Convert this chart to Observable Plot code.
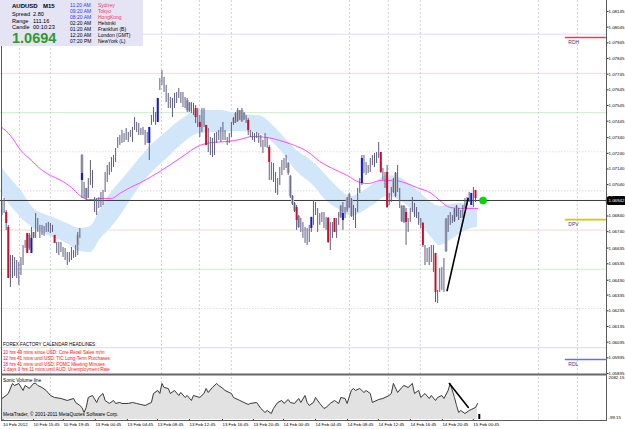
<!DOCTYPE html>
<html><head><meta charset="utf-8">
<script src="https://cdn.jsdelivr.net/npm/d3@7"></script>
<script src="https://cdn.jsdelivr.net/npm/@observablehq/plot@0.6"></script>
<style>
body{margin:0;background:#fff;}
#wrap{position:relative;width:625px;height:429px;overflow:hidden;background:#fff;}
#p1,#p2,#ov{position:absolute;left:0;}
#p1{top:0}#p2{top:375px}#ov{top:0;pointer-events:none}
svg{overflow:visible}
</style></head><body>
<div id="wrap"><div id="p1"></div><div id="p2"></div><div id="ov"></div></div>
<script>
// ---------- DATA ----------
const barHigh = [1.06939,1.06952,1.06875,1.06780,1.06588,1.06588,1.06575,1.06556,1.06543,1.06575,
1.06652,1.06684,1.06728,1.06728,1.06767,1.06735,1.06856,1.06824,1.06780,1.06780,
1.06773,1.06792,1.06799,1.06792,1.06780,1.06716,1.06671,1.06671,1.06671,1.06639,
1.06633,1.06607,1.06607,1.06639,1.06620,1.06652,1.06735,1.06760,1.07232,1.07054,
1.07016,1.07079,1.07194,1.07130,1.06958,1.06952,1.06958,1.06990,1.07003,1.07118,
1.07162,1.07181,1.07213,1.07226,1.07271,1.07341,1.07354,1.07386,1.07366,1.07398,
1.07373,1.07386,1.07405,1.07468,1.07437,1.07430,1.07398,1.07405,1.07386,1.07373,
1.07405,1.07481,1.07532,1.07500,1.07590,1.07717,1.07768,1.07724,1.07673,1.07622,
1.07596,1.07590,1.07622,1.07628,1.07654,1.07628,1.07628,1.07596,1.07590,1.07564,
1.07564,1.07558,1.07545,1.07526,1.07481,1.07526,1.07526,1.07418,1.07398,1.07341,
1.07335,1.07366,1.07373,1.07386,1.07405,1.07437,1.07386,1.07341,1.07366,1.07437,
1.07468,1.07500,1.07526,1.07513,1.07526,1.07500,1.07481,1.07462,1.07386,1.07373,
1.07366,1.07373,1.07366,1.07354,1.07322,1.07366,1.07341,1.07290,1.07181,1.07175,
1.07118,1.07079,1.07150,1.07194,1.07207,1.07226,1.07181,1.07099,1.06971,1.06926,
1.06907,1.06843,1.06824,1.06799,1.06767,1.06760,1.06780,1.06831,1.06939,1.06926,
1.06888,1.06856,1.06862,1.06862,1.06831,1.06831,1.06799,1.06799,1.06824,1.06824,
1.06862,1.06907,1.06926,1.06894,1.06958,1.06984,1.06952,1.06907,1.06888,1.07016,
1.07079,1.07226,1.07226,1.07181,1.07162,1.07207,1.07226,1.07239,1.07245,1.07309,
1.07245,1.07143,1.07118,1.07162,1.06984,1.07022,1.07079,1.07118,1.07162,1.07016,
1.06907,1.06907,1.06888,1.06824,1.06888,1.06958,1.06920,1.06894,1.06862,1.06824,
1.06799,1.06652,1.06633,1.06639,1.06652,1.06652,1.06601,1.06365,1.06505,1.06512,
1.06569,1.06824,1.06843,1.06862,1.06843,1.06888,1.06907,1.06888,1.06875,1.06907,
1.06952,1.06958,1.06990,1.06984,1.07022,1.07003];
const barLow = [1.06843,1.06856,1.06748,1.06441,1.06384,1.06441,1.06454,1.06441,1.06397,1.06460,
1.06524,1.06633,1.06601,1.06620,1.06601,1.06697,1.06697,1.06735,1.06697,1.06716,
1.06710,1.06735,1.06735,1.06728,1.06735,1.06665,1.06601,1.06588,1.06607,1.06575,
1.06556,1.06524,1.06543,1.06556,1.06569,1.06575,1.06588,1.06697,1.06952,1.06952,
1.06939,1.06952,1.07035,1.07016,1.06862,1.06843,1.06888,1.06894,1.06907,1.06990,
1.07054,1.07099,1.07118,1.07150,1.07181,1.07271,1.07290,1.07303,1.07309,1.07322,
1.07309,1.07341,1.07309,1.07386,1.07373,1.07354,1.07354,1.07354,1.07290,1.07303,
1.07194,1.07418,1.07437,1.07418,1.07437,1.07641,1.07673,1.07628,1.07564,1.07526,
1.07526,1.07468,1.07526,1.07558,1.07590,1.07558,1.07532,1.07526,1.07500,1.07500,
1.07494,1.07481,1.07430,1.07405,1.07341,1.07373,1.07405,1.07290,1.07245,1.07226,
1.07213,1.07226,1.07303,1.07322,1.07309,1.07322,1.07322,1.07290,1.07303,1.07341,
1.07418,1.07430,1.07437,1.07449,1.07437,1.07449,1.07430,1.07354,1.07341,1.07322,
1.07309,1.07335,1.07303,1.07277,1.07239,1.07277,1.07271,1.07067,1.07067,1.07054,
1.06984,1.06971,1.07035,1.07099,1.07130,1.07143,1.07099,1.06952,1.06907,1.06862,
1.06748,1.06760,1.06735,1.06697,1.06665,1.06652,1.06671,1.06735,1.06780,1.06843,
1.06735,1.06780,1.06799,1.06760,1.06748,1.06665,1.06620,1.06697,1.06735,1.06697,
1.06780,1.06824,1.06748,1.06824,1.06862,1.06888,1.06831,1.06811,1.06760,1.06862,
1.06984,1.07035,1.07111,1.07099,1.07111,1.07118,1.07162,1.07150,1.07175,1.07207,
1.07111,1.07067,1.07016,1.06888,1.06907,1.06926,1.06984,1.06958,1.06990,1.06888,
1.06799,1.06792,1.06652,1.06735,1.06799,1.06862,1.06831,1.06824,1.06780,1.06760,
1.06639,1.06524,1.06543,1.06524,1.06543,1.06480,1.06288,1.06282,1.06352,1.06365,
1.06352,1.06607,1.06735,1.06780,1.06792,1.06799,1.06831,1.06811,1.06824,1.06824,
1.06888,1.06907,1.06926,1.06907,1.06894,1.06926];

// coloured candle bodies (bar number, top, bottom, colour)
const bodyBar = [2,3,12,25,92,94,97,117,127,140,155,158,180,183,192,200,206,225,
 14,38,70,74,147,162,171,223,
 13,15,36,38,40,88,89,110,111,112,113,114,115,136,137,138,139,141,161,164,165,166,186,187,190,191,211,215,216];
const bodyTop = [1.06862,1.06767,1.06728,1.06716,1.07526,1.07437,1.07418,1.07449,1.07277,1.06894,1.06824,1.06824,1.07245,1.07118,1.06862,1.06792,1.06601,1.07003,
 1.06697,1.07111,1.07405,1.07590,1.06831,1.06856,1.07207,1.06984,
 1.06716,1.06735,1.06716,1.07226,1.07016,1.07577,1.07558,1.07462,1.07494,1.07513,1.07507,1.07513,1.07494,1.07175,1.07092,1.06964,1.06920,1.06837,1.06901,1.06952,1.06977,1.06945,1.07073,1.07111,1.06901,1.06901,1.06818,1.06882,1.06901];
const bodyBot = [1.06792,1.06441,1.06601,1.06665,1.07468,1.07405,1.07290,1.07386,1.07181,1.06811,1.06671,1.06735,1.07118,1.06894,1.06799,1.06652,1.06352,1.06952,
 1.06601,1.07067,1.07303,1.07437,1.06760,1.06811,1.07047,1.06907,
 1.06633,1.06697,1.06652,1.07067,1.06952,1.07513,1.07507,1.07430,1.07437,1.07443,1.07456,1.07443,1.07456,1.07111,1.06964,1.06913,1.06869,1.06767,1.06831,1.06875,1.06894,1.06837,1.06990,1.06964,1.06805,1.06799,1.06613,1.06805,1.06837];
const bodyColor = [..."rrrrrrrrrrrrrrrrrr","bbbbbbbb",..."ggggggggggggggggggggggggggggg"].join("").split("");

// indicator band (upper / lower) and moving average
const bandBar = [0,4,9,15,23,31,37,42,47,52,58,62,70,79,86,94,104,113,122,132,140,147,155,161,166,170,177,183,189,194,199,204,208,213,218,223,226];
const bandUpper = [1.07150,1.07079,1.07003,1.06888,1.06837,1.06792,1.06760,1.06773,1.06888,1.06990,1.07086,1.07150,1.07277,1.07386,1.07462,1.07513,1.07513,1.07488,1.07481,1.07373,1.07258,1.07194,1.07086,1.07003,1.06964,1.06984,1.07047,1.07099,1.07086,1.07041,1.06984,1.06926,1.06901,1.06913,1.06920,1.06901,1.06888];
const bandLower = [1.06971,1.06907,1.06831,1.06760,1.06709,1.06665,1.06614,1.06607,1.06697,1.06767,1.06875,1.06958,1.07099,1.07213,1.07303,1.07366,1.07373,1.07379,1.07366,1.07264,1.07124,1.07047,1.06926,1.06875,1.06837,1.06856,1.06913,1.06964,1.06939,1.06888,1.06792,1.06703,1.06652,1.06684,1.06728,1.06760,1.06767];
const maBar = [0,4,9,14,18,23,28,33,37,41,44,47,52,56,61,66,71,75,85,94,100,107,113,119,126,132,139,145,151,157,164,170,174,180,186,191,197,204,208,213,218,223,226];
const maValue = [1.07405,1.07354,1.07258,1.07194,1.07143,1.07099,1.07067,1.07022,1.06971,1.06945,1.06945,1.06952,1.06952,1.06984,1.07022,1.07054,1.07092,1.07124,1.07213,1.07290,1.07309,1.07315,1.07328,1.07347,1.07341,1.07322,1.07290,1.07252,1.07188,1.07143,1.07099,1.07054,1.07047,1.07067,1.07067,1.07054,1.07022,1.06984,1.06939,1.06894,1.06888,1.06888,1.06888];

const trendBar = [211.5, 221.5];
const trendPrice = [1.06364, 1.06952];
const currentPrice = 1.06939;
const currentLabel = "1.06942";
const dotBar = 228.6, dotPrice = 1.06939;

const quarterPrice = [1.0800,1.0775,1.0750,1.0725,1.0700,1.0675,1.0650,1.0625,1.0600];
const quarterColor = ["#dcdcf4","#f6dcd6","#cdf2cd","#f2d8d8","#d6d6f2","#f6d8d0","#cdf2cd","#f4d8d2","#dadaf4"];
const quarterDotted = [false,false,false,true,true,false,false,true,false];

const levelName = ["RDH","DPV","RDL"];
const levelPrice = [1.07979,1.06817,1.05924];
const levelColor = ["#ff3a3a","#cccc00","#6c6cee"];
const levelSpan = [267.7, 287.2];

const gridBars = [8.3,23,75.8,93.8,109,165.1,183.6,198.8,254.9,273.4];

const priceTicks = [1.08145,1.08045,1.07945,1.07845,1.07745,1.07645,1.07545,1.07445,1.07340,1.07240,1.07140,1.07040,1.06840,1.06740,1.06635,1.06535,1.06430,1.06335,1.06235,1.06135,1.06035,1.05935,1.05835];

const timeLabels = ["10 Feb 2012","10 Feb 15:45","10 Feb 19:45","13 Feb 00:45","13 Feb 04:45","13 Feb 08:45","13 Feb 12:45","13 Feb 16:45","13 Feb 20:45","14 Feb 00:45","14 Feb 04:45","14 Feb 08:45","14 Feb 12:45","14 Feb 16:45","14 Feb 20:45","15 Feb 00:45"];
const timeBars = [0,14.5,28.7,43.9,59.1,73.4,88.6,104.3,119,133.3,148.5,163.7,178.4,193.6,208.8,223.5];

const volBar = [0,2,3,5,6,8,10,11,13,15,
16,17,19,21,23,25,28,31,34,35,
37,38,39,40,41,43,45,46,48,49,
51,53,54,56,57,60,62,64,66,68,
71,72,74,75,76,77,79,80,82,84,
85,87,88,90,91,94,96,97,98,100,
102,103,105,106,109,110,113,115,117,118,
121,123,125,126,128,129,131,133,134,136,
137,139,141,142,144,145,146,148,149,151,
153,154,156,158,160,161,163,164,166,167,
168,170,172,173,175,176,179,181,184,185,
186,188,190,191,193,195,196,198,199,201,
203,204,206,207,209,210,212,213,215,216,
217,218,220,222,223,225,226];
const volValue = [943,1091,1190,1686,1587,1686,1339,1587,1439,1686,
1700,1587,1488,1339,1091,992,943,843,943,744,
595,496,248,496,992,1091,744,992,1190,843,
695,843,695,744,695,695,744,695,645,595,
744,1190,1339,1190,1686,1488,1439,1190,1339,1091,
1240,992,1091,843,1091,992,1190,1439,1240,1488,
1686,1587,1439,1339,1190,992,843,744,645,695,
744,447,248,347,199,447,744,843,695,893,
744,695,943,744,1091,744,595,744,992,695,
447,496,695,843,695,992,943,695,1339,1439,
1339,1439,1240,1339,1190,744,893,943,1091,1190,
1686,1240,1488,1587,1488,1686,1190,1339,992,1190,
943,1091,843,992,1091,943,1339,1686,992,595,
248,347,199,347,397,496,695];
const volMin = -99.15, volMax = 2082.15;
const volTrendBar = [212.6, 221.6], volTrendValue = [1686, 496];
const volCurrentBar = 226.8, volCurrentValue = 150;

// ---------- BUILD ----------
const FONT = "'Liberation Sans', Arial, sans-serif";
const AX = 4.4; // axis font size
const bars = barHigh.map((h, i) => ({i, high: h, low: barLow[i]}));
const bodies = bodyBar.map((b, k) => ({i: b, top: bodyTop[k], bot: bodyBot[k], c: bodyColor[k]}));
const band = bandBar.map((b, k) => ({i: b, up: bandUpper[k], lo: bandLower[k]}));
const ma = maBar.map((b, k) => ({i: b, v: maValue[k]}));
const trend = trendBar.map((b, k) => ({i: b, p: trendPrice[k]}));
const quarters = quarterPrice.map((p, k) => ({p, c: quarterColor[k], d: quarterDotted[k]}));
const levels = levelName.map((n, k) => ({n, p: levelPrice[k], c: levelColor[k]}));
const vol = volBar.map((b, k) => ({i: b, v: volValue[k]}));
const volTrend = volTrendBar.map((b, k) => ({i: b, v: volTrendValue[k]}));
const timeMap = new Map(timeBars.map((b, k) => [b, timeLabels[k]]));

const xScale = {domain: [0, 225], range: [1.5, 475], axis: null, label: null};

const p1 = Plot.plot({
  width: 625, height: 375, marginTop: 0, marginBottom: 0, marginLeft: 0, marginRight: 19,
  x: xScale,
  y: {domain: [1.05835, 1.08215], range: [373, 0], label: null},
  color: {type: "identity"},
  style: {fontFamily: FONT, fontSize: AX + "px", background: "transparent", color: "#000"},
  marks: [
    Plot.ruleY(quarters.filter(d => !d.d), {y: "p", stroke: "c", strokeWidth: 1}),
    Plot.ruleY(quarters.filter(d => d.d), {y: "p", stroke: "c", strokeWidth: 1, strokeDasharray: "1.5,1.5"}),
    Plot.ruleX(gridBars, {x: d => d, stroke: "#c4c4dc", strokeWidth: 0.8, strokeDasharray: "2,2"}),
    Plot.areaY(band, {x: "i", y1: "lo", y2: "up", fill: "#d2e6f9", curve: "monotone-x"}),
    Plot.line(ma, {x: "i", y: "v", stroke: "#ff4dff", strokeWidth: 1, curve: "monotone-x"}),
    Plot.ruleY([currentPrice], {y: d => d, stroke: "#3a3a3a", strokeWidth: 1}),
    Plot.ruleX(bodies.filter(d => d.c === "g"), {x: "i", y1: "bot", y2: "top", stroke: "#bcbccc", strokeWidth: 3}),
    Plot.ruleX(bars, {x: "i", y1: "low", y2: "high", stroke: "#5c5c80", strokeWidth: 1}),
    Plot.ruleX(bodies.filter(d => d.c === "r"), {x: "i", y1: "bot", y2: "top", stroke: "#c8102a", strokeWidth: 2}),
    Plot.ruleX(bodies.filter(d => d.c === "b"), {x: "i", y1: "bot", y2: "top", stroke: "#1616c8", strokeWidth: 2}),
    Plot.line(trend, {x: "i", y: "p", stroke: "#000", strokeWidth: 1.6}),
    Plot.dot([{i: dotBar, p: dotPrice}], {x: "i", y: "p", r: 3.6, fill: "#00d800", stroke: "#22aa22", strokeWidth: 0.5}),
    Plot.ruleY(levels, {y: "p", x1: levelSpan[0], x2: levelSpan[1], stroke: "c", strokeWidth: 1.6}),
    Plot.text(levels, {x: levelSpan[0], y: "p", text: "n", dx: 3, dy: 4.5, textAnchor: "start", fill: "#40407a", fontSize: 5}),
    Plot.axisY({anchor: "right", ticks: priceTicks, tickFormat: d => d.toFixed(5), tickSize: 1.5, tickPadding: 0.5, fontSize: AX, stroke: "#333"}),
    Plot.text([currentLabel], {y: currentPrice, text: d => d, frameAnchor: "right", dx: 2, textAnchor: "start",
      fill: "#fff", stroke: "#000", strokeWidth: 6, paintOrder: "stroke", fontSize: AX})
  ]
});
document.getElementById("p1").appendChild(p1);

const p2 = Plot.plot({
  width: 625, height: 54, marginTop: 0, marginBottom: 10, marginLeft: 0, marginRight: 19,
  x: {...xScale, axis: null},
  y: {domain: [volMin, volMax], axis: null, label: null},
  style: {fontFamily: FONT, fontSize: AX + "px", background: "transparent", color: "#000"},
  marks: [
    Plot.ruleX(gridBars, {x: d => d, y1: volMin, y2: volMax, stroke: "#c4c4dc", strokeWidth: 0.8, strokeDasharray: "2,2"}),
    Plot.areaY(vol, {x: "i", y1: volMin, y2: "v", fill: "#e2e2e2"}),
    Plot.line(vol, {x: "i", y: "v", stroke: "#3c3c3c", strokeWidth: 1}),
    Plot.line(volTrend, {x: "i", y: "v", stroke: "#000", strokeWidth: 1.6}),
    Plot.ruleX([volCurrentBar], {x: d => d, y1: volMin, y2: volCurrentValue, stroke: "#000", strokeWidth: 2}),
    Plot.axisX({ticks: timeBars, tickFormat: d => timeMap.get(d), anchor: "bottom", tickSize: 2, tickPadding: 1,
      textAnchor: "start", dx: 1, fontSize: AX, stroke: "#333", label: null}),
    Plot.text([volMax], {y: d => d, text: d => d.toFixed(2), frameAnchor: "right", dx: 2, dy: 2.5, textAnchor: "start", fontSize: AX}),
    Plot.text([volMin], {y: d => d, text: d => d.toFixed(2), frameAnchor: "right", dx: 2, dy: -2, textAnchor: "start", fontSize: AX})
  ]
});
document.getElementById("p2").appendChild(p2);

// ---------- overlay: panel chrome, info box, headlines ----------
const times = [["11:20 AM","Sydney",1],["09:20 AM","Tokyo",1],["08:20 AM","HongKong",1],["02:20 AM","Helsinki",0],
  ["01:20 AM","Frankfurt (B)",0],["12:20 AM","London (GMT)",0],["07:20 PM","NewYork (L)",0]];
const headlines = ["10 hrs 49 mins since USD: Core Retail Sales m/m","12 hrs 41 mins until USD: TIC Long-Term Purchases",
  "18 hrs 41 mins until USD: FOMC Meeting Minutes","1 days 0 hrs 11 mins until AUD: Unemployment Rate"];
const t = (x, y, s, fs, fill = "#000", w = "normal") =>
  `<text x="${x}" y="${y}" font-size="${fs}" fill="${fill}" font-weight="${w}" dominant-baseline="middle">${s}</text>`;
let o = `<svg width="625" height="429" xmlns="http://www.w3.org/2000/svg" font-family="${FONT}">`;
o += `<line x1="1.5" y1="0" x2="1.5" y2="421" stroke="#5a5a5a"/>`;
o += `<line x1="606.5" y1="0" x2="606.5" y2="421" stroke="#5a5a5a"/>`;
o += `<rect x="1" y="373.5" width="606" height="2" fill="#666"/>`;
o += `<line x1="1" y1="420.5" x2="607" y2="420.5" stroke="#5a5a5a"/>`;
o += `<rect x="0" y="0" width="143" height="46" fill="#e4e4f4"/>`;
o += t(12, 6, "AUDUSD", 6, "#000", "bold") + t(43, 6, "M15", 6, "#000", "bold");
o += t(12, 15, "Spread", 5.6) + t(33, 15, "2.80", 5.6);
o += t(12, 21.5, "Range", 5.6) + t(33, 21.5, "111.16", 5.6);
o += t(12, 28, "Candle", 5.6) + t(33, 28, "00:10:23", 5.6);
o += t(12, 39, "1.0694", 14.5, "#2d9a2d", "bold");
times.forEach((r, k) => {
  const y = 6 + k * 6;
  o += t(70, y, r[0], 5, r[2] ? "#3333ff" : "#000") + t(98, y, r[1], 5, r[2] ? "#ff3366" : "#000");
});
o += t(3, 345, "FOREX FACTORY CALENDAR HEADLINES:", 4.6);
headlines.forEach((h, k) => { o += t(3, 352.5 + k * 5.9, h, 4.6, "#ff1010"); });
o += t(3, 380.5, "Sonic Volume line", 4.8);
o += t(3, 414.5, "MetaTrader, \u00a9 2001-2011 MetaQuotes Software Corp.", 4.8);
o += `</svg>`;
document.getElementById("ov").innerHTML = o;
</script>
</body></html>
